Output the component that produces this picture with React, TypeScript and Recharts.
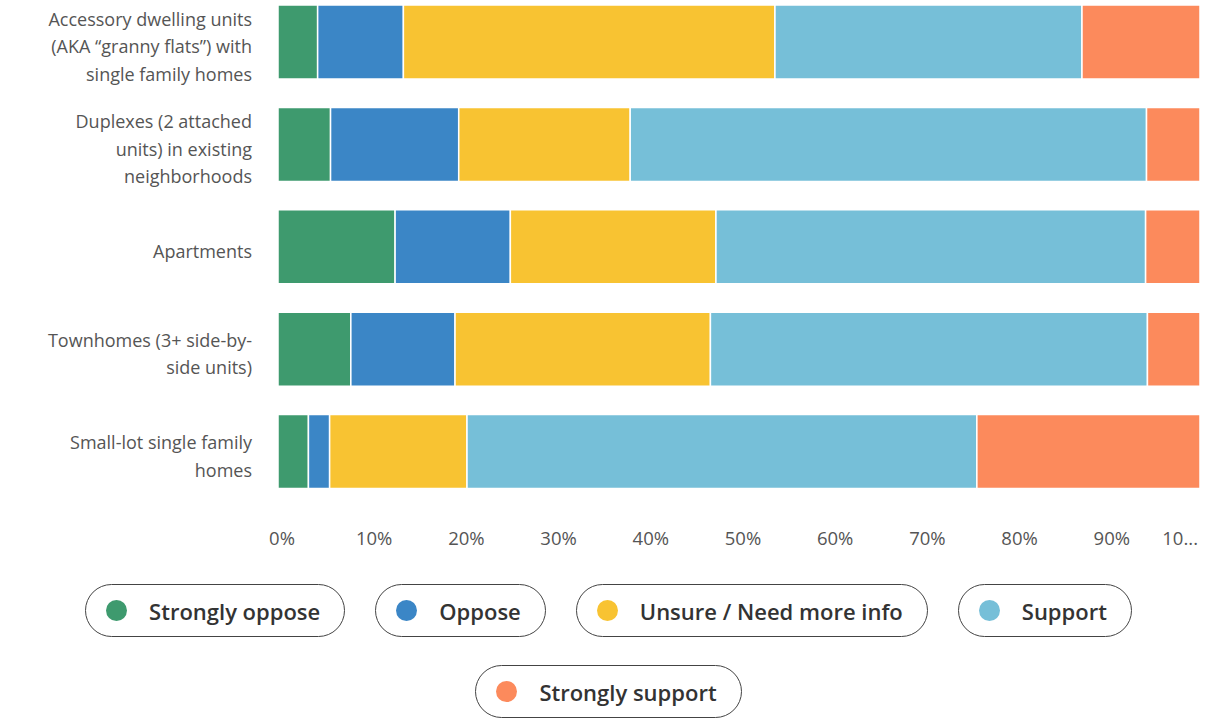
import React from 'react'
import { BarChart, Bar, XAxis, YAxis, Legend } from 'recharts'

const categories = [
  'Accessory dwelling units\n(AKA \u201cgranny flats\u201d) with\nsingle family homes',
  'Duplexes (2 attached\nunits) in existing\nneighborhoods',
  'Apartments',
  'Townhomes (3+ side-by-\nside units)',
  'Small-lot single family\nhomes',
]

const seriesNames = ['Strongly oppose', 'Oppose', 'Unsure / Need more info', 'Support', 'Strongly support']

const strongOppose = [4.3, 5.7, 12.7, 7.9, 3.3]
const oppose = [9.3, 13.9, 12.5, 11.3, 2.3]
const unsure = [40.3, 18.6, 22.3, 27.7, 14.9]
const support = [33.3, 56.0, 46.6, 47.4, 55.3]
const strongSupport = [12.8, 5.8, 5.9, 5.7, 24.2]

const xTicks = [0, 10, 20, 30, 40, 50, 60, 70, 80, 90, 100]

const data = categories.map((name, i) => ({
  name,
  strongOppose: strongOppose[i],
  oppose: oppose[i],
  unsure: unsure[i],
  support: support[i],
  strongSupport: strongSupport[i],
}))

const FONT = '"Open Sans", sans-serif'

const YTick = (props: any) => {
  const { y, payload } = props
  const lines = String(payload.value).split('\n')
  const lh = 27.5
  const start = y + 4 - ((lines.length - 1) * lh) / 2
  return (
    <text
      x={252}
      y={start}
      textAnchor="end"
      fill="#555"
      fontSize={18}
      fontFamily={FONT}
      dominantBaseline="central"
    >
      {lines.map((l, i) => (
        <tspan key={i} x={252} y={start + i * lh}>
          {l}
        </tspan>
      ))}
    </text>
  )
}

const XTick = (props: any) => {
  const { x, payload } = props
  const v = payload.value
  const last = v === 100
  return (
    <text
      x={last ? x - 2 : x + 4}
      y={537}
      textAnchor={last ? 'end' : 'middle'}
      fill="#555"
      fontSize={18.5}
      fontFamily={FONT}
      dominantBaseline="central"
    >
      {last ? '10...' : `${v}%`}
    </text>
  )
}

const LegendPills = (props: any) => {
  const payload = [...(props.payload || [])].sort(
    (a: any, b: any) => seriesNames.indexOf(a.value) - seriesNames.indexOf(b.value)
  )
  return (
    <div
      style={{
        display: 'flex',
        flexWrap: 'wrap',
        justifyContent: 'center',
        columnGap: 30,
        rowGap: 28,
        width: 1120,
        margin: '0 auto',
        paddingLeft: 10,
      }}
    >
      {payload.map((p: any) => (
        <div
          key={p.value}
          style={{
            display: 'flex',
            alignItems: 'center',
            height: 53,
            border: '1.5px solid #444',
            borderRadius: 27,
            padding: '0 24px 0 20px',
            boxSizing: 'border-box',
          }}
        >
          <span
            style={{
              width: 21,
              height: 21,
              borderRadius: '50%',
              background: p.color,
              display: 'inline-block',
              marginRight: 22,
            }}
          />
          <span
            style={{
              fontFamily: FONT,
              fontSize: 22,
              fontWeight: 600,
              color: '#333',
            }}
          >
            {p.value}
          </span>
        </div>
      ))}
    </div>
  )
}

export default function App() {
  return (
    <div style={{ position: 'absolute', left: 0, top: 0, background: '#fff' }}>
      <BarChart
        width={1207}
        height={719}
        data={data}
        layout="vertical"
        margin={{ top: -9, right: 7, left: 0, bottom: 156 }}
      >
        <XAxis
          type="number"
          domain={[0, 100]}
          ticks={xTicks}
          axisLine={false}
          tickLine={false}
          height={60}
          tick={<XTick />}
          interval={0}
        />
        <YAxis
          type="category"
          dataKey="name"
          width={278}
          axisLine={false}
          tickLine={false}
          tick={<YTick />}
          interval={0}
        />
        <Legend
          layout="horizontal"
          verticalAlign="middle"
          align="center"
          wrapperStyle={{ top: 584, left: 0, width: 1207 }}
          content={<LegendPills />}
        />
        <Bar dataKey="strongOppose" name={seriesNames[0]} stackId="a" fill="#3e9a6e" stroke="#fff" strokeWidth={1.5} barSize={74} isAnimationActive={false} />
        <Bar dataKey="oppose" name={seriesNames[1]} stackId="a" fill="#3b86c6" stroke="#fff" strokeWidth={1.5} barSize={74} isAnimationActive={false} />
        <Bar dataKey="unsure" name={seriesNames[2]} stackId="a" fill="#f8c332" stroke="#fff" strokeWidth={1.5} barSize={74} isAnimationActive={false} />
        <Bar dataKey="support" name={seriesNames[3]} stackId="a" fill="#76bfd8" stroke="#fff" strokeWidth={1.5} barSize={74} isAnimationActive={false} />
        <Bar dataKey="strongSupport" name={seriesNames[4]} stackId="a" fill="#fc8a5c" stroke="#fff" strokeWidth={1.5} barSize={74} isAnimationActive={false} />
      </BarChart>
    </div>
  )
}
